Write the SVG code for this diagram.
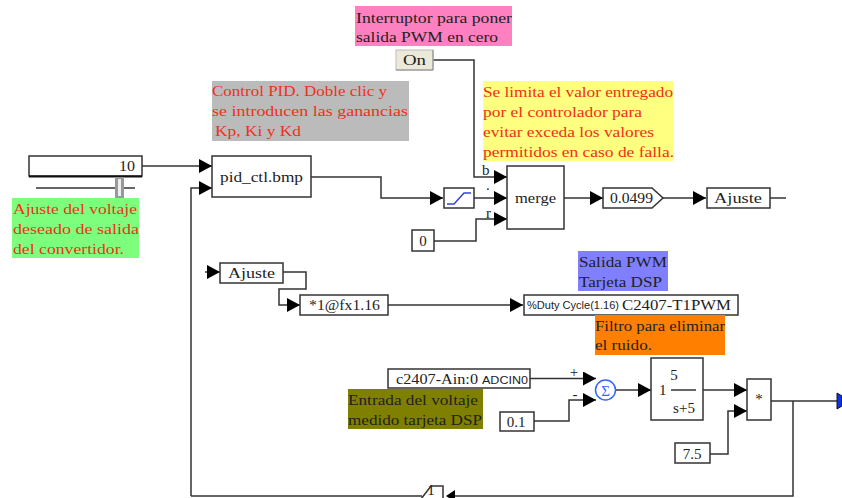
<svg xmlns="http://www.w3.org/2000/svg" width="842" height="498" viewBox="0 0 842 498">
<style>
text{font-family:"Liberation Serif","DejaVu Serif",serif;font-size:15px;fill:#222}
.r{fill:#f0301a}
.k{fill:#222}
.s{font-family:"Liberation Sans","DejaVu Sans",sans-serif;font-size:10px}
.b{fill:#fff;stroke:#333;stroke-width:1.5}
.l{fill:none;stroke:#333;stroke-width:1.5}
.m{text-anchor:middle}
</style>
<defs><marker id="a" markerUnits="userSpaceOnUse" markerWidth="14" markerHeight="15" refX="13" refY="7" orient="auto"><path d="M0 0L13 7L0 14Z" fill="#000"/></marker></defs>
<rect width="842" height="498" fill="#fff"/>
<g id="connectors" class="l">
<path marker-end="url(#a)" d="M142 166H212"/>
<path marker-end="url(#a)" d="M191 496V188H212"/>
<path d="M191 496H422"/>
<path marker-end="url(#a)" d="M311 177H381V198H443"/>
<path marker-end="url(#a)" d="M474 198H507"/>
<path marker-end="url(#a)" d="M433 60H474V177H507"/>
<path marker-end="url(#a)" d="M434 241H476V219H507"/>
<path marker-end="url(#a)" d="M564 198H603"/>
<path marker-end="url(#a)" d="M663 198H706"/>
<path d="M770 198H786"/>
<path marker-end="url(#a)" d="M205 272H220"/>
<path marker-end="url(#a)" d="M283 272H306V289H279V305H300"/>
<path marker-end="url(#a)" d="M388 305H523"/>
<path marker-end="url(#a)" d="M530 378.500H596"/>
<path marker-end="url(#a)" d="M534 421H569V400H596"/>
<path marker-end="url(#a)" d="M616 390H651"/>
<path marker-end="url(#a)" d="M703 390H747"/>
<path marker-end="url(#a)" d="M710 454H728V411H747"/>
<path d="M771 401H838"/>
<path d="M793 401V496H451"/>
<path d="M455 490L446 496L455 502Z" fill="#000" stroke="none"/>
</g>
<g id="slider"><rect class="b" x="29" y="156" width="113" height="20"/><path d="M29 176.500H142" stroke="#111" stroke-width="2"/><text x="119" y="171" textLength="16" lengthAdjust="spacingAndGlyphs">10</text><path d="M36 188H135" stroke="#333" stroke-width="1.500"/><rect x="115" y="177" width="9" height="21" fill="#999"/><rect x="118" y="179" width="3" height="17" fill="#eee"/></g>
<g id="note-ajuste"><rect x="12" y="198" width="127" height="60" fill="#7dff7d"/><text class="r" x="13" y="214" textLength="124" lengthAdjust="spacingAndGlyphs">Ajuste del voltaje</text><text class="r" x="13" y="234" textLength="126" lengthAdjust="spacingAndGlyphs">deseado de salida</text><text class="r" x="13" y="254" textLength="111" lengthAdjust="spacingAndGlyphs">del convertidor.</text></g>
<g id="note-pid"><rect x="212" y="81" width="197" height="60" fill="#bbb"/><text class="r" x="212" y="96" textLength="175" lengthAdjust="spacingAndGlyphs">Control PID. Doble clic y</text><text class="r" x="212" y="116" textLength="196" lengthAdjust="spacingAndGlyphs">se introducen las ganancias</text><text class="r" x="215" y="136" textLength="86" lengthAdjust="spacingAndGlyphs">Kp, Ki y Kd</text></g>
<g id="pid"><rect class="b" x="212" y="156" width="99" height="41"/><text x="220" y="182" textLength="83" lengthAdjust="spacingAndGlyphs">pid_ctl.bmp</text></g>
<g id="note-int"><rect x="355" y="6" width="157" height="40" fill="#ff80c0"/><text class="k" x="356" y="23" textLength="156" lengthAdjust="spacingAndGlyphs">Interruptor para poner</text><text class="k" x="356" y="42" textLength="142" lengthAdjust="spacingAndGlyphs">salida PWM en cero</text></g>
<g id="on"><rect x="396" y="50" width="37" height="20" fill="#ece9d8" stroke="#bbb"/><path d="M396 70H433V50" fill="none" stroke="#888"/><text x="403" y="65" textLength="23" lengthAdjust="spacingAndGlyphs">On</text></g>
<g id="note-lim"><rect x="483" y="81" width="191" height="80" fill="#ffff80"/><text class="r" x="483" y="97" textLength="190" lengthAdjust="spacingAndGlyphs">Se limita el valor entregado</text><text class="r" x="483" y="117" textLength="159" lengthAdjust="spacingAndGlyphs">por el controlador para</text><text class="r" x="483" y="137" textLength="171" lengthAdjust="spacingAndGlyphs">evitar exceda los valores</text><text class="r" x="483" y="157" textLength="191" lengthAdjust="spacingAndGlyphs">permitidos en caso de falla.</text></g>
<g id="sat"><rect class="b" x="444" y="188" width="30" height="20"/><path d="M447 204H454L464 193H471" fill="none" stroke="#3344dd" stroke-width="1.500"/></g>
<g id="merge"><rect class="b" x="507" y="166" width="57" height="63"/><text x="515" y="203" textLength="41" lengthAdjust="spacingAndGlyphs">merge</text><text x="482" y="175">b</text><text x="486" y="190" font-size="8">.</text><text x="486" y="218">r</text></g>
<g id="zero"><rect class="b" x="412" y="230" width="22" height="21"/><text class="m" x="423" y="246">0</text></g>
<g id="display"><path class="b" d="M603 188H652L663 198L652 208H603Z"/><text x="610" y="203" textLength="43" lengthAdjust="spacingAndGlyphs">0.0499</text></g>
<g id="ajuste-out"><rect class="b" x="707" y="188" width="63" height="20"/><text x="714" y="203" textLength="48" lengthAdjust="spacingAndGlyphs">Ajuste</text></g>
<g id="ajuste-in"><rect class="b" x="220" y="263" width="63" height="20"/><text x="228" y="278" textLength="47" lengthAdjust="spacingAndGlyphs">Ajuste</text></g>
<g id="fx"><rect class="b" x="300" y="295" width="88" height="20"/><text x="309" y="310" textLength="71" lengthAdjust="spacingAndGlyphs">*1@fx1.16</text></g>
<g id="note-pwm"><rect x="578" y="251" width="90" height="40" fill="#8080ff"/><text class="k" x="579" y="267" textLength="88" lengthAdjust="spacingAndGlyphs">Salida PWM</text><text class="k" x="579" y="287" textLength="83" lengthAdjust="spacingAndGlyphs">Tarjeta DSP</text></g>
<g id="pwm"><rect class="b" x="524" y="295" width="214" height="20"/><text class="s" x="527" y="309" textLength="92" lengthAdjust="spacingAndGlyphs">%Duty Cycle(1.16)</text><text x="622" y="310" textLength="109" lengthAdjust="spacingAndGlyphs">C2407-T1PWM</text></g>
<g id="note-filt"><rect x="595" y="315" width="130" height="40" fill="#ff8000"/><text class="k" x="595" y="331" textLength="130" lengthAdjust="spacingAndGlyphs">Filtro para eliminar</text><text class="k" x="595" y="350" textLength="57" lengthAdjust="spacingAndGlyphs">el ruido.</text></g>
<g id="ain"><rect class="b" x="388" y="369" width="142" height="19"/><text x="396" y="384" textLength="82" lengthAdjust="spacingAndGlyphs">c2407-Ain:0</text><text class="s" x="482" y="384" textLength="46" lengthAdjust="spacingAndGlyphs">ADCIN0</text></g>
<g id="note-ent"><rect x="348" y="389" width="135" height="40" fill="#808000"/><text class="k" x="348" y="405" textLength="130" lengthAdjust="spacingAndGlyphs">Entrada del voltaje</text><text class="k" x="348" y="425" textLength="134" lengthAdjust="spacingAndGlyphs">medido tarjeta DSP</text></g>
<g id="const01"><rect class="b" x="500" y="412" width="34" height="19"/><text class="m" x="516" y="427" font-size="16">0.1</text></g>
<g id="sum"><circle cx="605.500" cy="390" r="10" fill="#fff" stroke="#3366ff" stroke-width="1.500"/><text x="605.500" y="396" class="m" style="fill:#3366ff" font-size="17">Σ</text><text x="574" y="377" class="m" font-size="18">+</text><text x="575" y="399" class="m" font-size="18">-</text></g>
<g id="tf"><rect class="b" x="651" y="358" width="52" height="62"/><text x="659" y="395" font-size="16">1</text><text class="m" x="674" y="380" font-size="17">5</text><path d="M671 390H696" stroke="#333" stroke-width="1.500"/><text class="m" x="684" y="413" font-size="17">s+5</text></g>
<g id="mul"><rect class="b" x="747" y="379" width="24" height="41"/><text class="m" x="759" y="404" font-size="17">*</text></g>
<g id="const75"><rect class="b" x="675" y="443" width="35" height="20"/><text class="m" x="692" y="459" font-size="16">7.5</text></g>
<g id="gain1"><path class="b" d="M421 499L431 486H443V499Z"/><text class="m" x="431" y="495" font-size="12">1</text></g>
<g id="out"><path d="M837 393L842 396V406L837 409Z" fill="#1133dd" stroke="#113"/></g>
</svg>
